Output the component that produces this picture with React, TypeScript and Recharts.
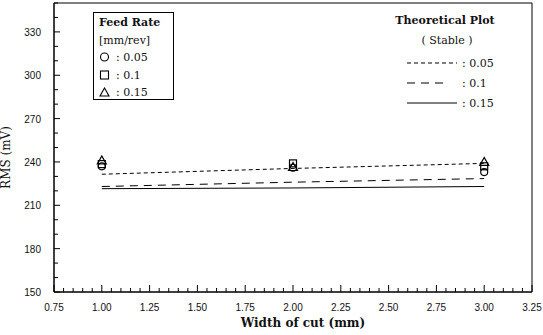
import { ComposedChart, Line, Scatter, XAxis, YAxis, ReferenceArea } from "recharts"

// width of cut (mm) where measured / theoretical values sit
const widths = [1.0, 2.0, 3.0]

// theoretical plot (stable), RMS in mV
const theory005 = [231.5, 235.5, 239]
const theory010 = [223, 226, 228.5]
const theory015 = [221.5, 222, 223]

// measured RMS (mV)
const meas005 = [237, 236, 233]
const meas010 = [238.5, 239, 237]
const meas015 = [241, 236.5, 240]

const xTicks = [
  0.75, 0.8, 0.85, 0.9, 0.95, 1.0, 1.05, 1.1, 1.15, 1.2, 1.25, 1.3, 1.35, 1.4, 1.45, 1.5, 1.55,
  1.6, 1.65, 1.7, 1.75, 1.8, 1.85, 1.9, 1.95, 2.0, 2.05, 2.1, 2.15, 2.2, 2.25, 2.3, 2.35, 2.4,
  2.45, 2.5, 2.55, 2.6, 2.65, 2.7, 2.75, 2.8, 2.85, 2.9, 2.95, 3.0, 3.05, 3.1, 3.15, 3.2, 3.25,
]
const xMajor = [0.75, 1.0, 1.25, 1.5, 1.75, 2.0, 2.25, 2.5, 2.75, 3.0, 3.25]
const yTicks = [
  150, 160, 170, 180, 190, 200, 210, 220, 230, 240, 250, 260, 270, 280, 290, 300, 310, 320, 330,
  340, 350,
]
const yMajor = [150, 180, 210, 240, 270, 300, 330]

const rows = widths.map((w, i) => ({
  x: w,
  t05: theory005[i],
  t10: theory010[i],
  t15: theory015[i],
  m05: meas005[i],
  m10: meas010[i],
  m15: meas015[i],
}))

const isIn = (list: number[], v: number) => list.some((m) => Math.abs(m - v) < 1e-6)

const tickFont = { fontFamily: "'Liberation Sans', Arial, sans-serif", fontSize: 10, fill: "#111" }
const serif = "'DejaVu Serif', 'Liberation Serif', serif"

function XTick(props: any) {
  const { x, y, payload } = props
  const major = isIn(xMajor, payload.value)
  return (
    <g>
      <line x1={x} x2={x} y1={y} y2={y - (major ? 7 : 4)} stroke="#000" />
      {major && (
        <text x={x} y={y + 19} textAnchor="middle" {...tickFont}>
          {payload.value.toFixed(2)}
        </text>
      )}
    </g>
  )
}

function YTick(props: any) {
  const { x, y, payload } = props
  const major = isIn(yMajor, payload.value)
  return (
    <g>
      <line x1={x} x2={x + (major ? 6 : 4)} y1={y} y2={y} stroke="#000" />
      {major && payload.value < 350 && (
        <text x={x - 13} y={y + 4} textAnchor="end" {...tickFont}>
          {payload.value}
        </text>
      )}
    </g>
  )
}

const circle = (p: any) => <circle cx={p.cx} cy={p.cy} r={3.5} fill="none" stroke="#000" strokeWidth={1.2} />
const square = (p: any) => (
  <rect x={p.cx - 3.5} y={p.cy - 3.5} width={7} height={7} fill="none" stroke="#000" strokeWidth={1.2} />
)
const triangle = (p: any) => (
  <polygon
    points={`${p.cx},${p.cy - 4.5} ${p.cx - 4.5},${p.cy + 3.5} ${p.cx + 4.5},${p.cy + 3.5}`}
    fill="none"
    stroke="#000"
    strokeWidth={1.2}
  />
)

const symStyle = { verticalAlign: "-1px", marginRight: 6 }

export default function App() {
  return (
    <div style={{ position: "absolute", left: 0, top: 0, width: 543, height: 335, background: "#fff" }}>
      <ComposedChart width={543} height={335} data={rows} margin={{ top: 3, right: 11, bottom: 0, left: 0 }}>
        <XAxis
          dataKey="x"
          type="number"
          domain={[0.75, 3.25]}
          ticks={xTicks}
          interval={0}
          height={43}
          tickSize={0}
          tickMargin={0}
          tick={<XTick />}
          axisLine={{ stroke: "#000" }}
          label={{
            value: "Width of cut (mm)",
            position: "insideBottom",
            offset: 8,
            dx: 10,
            style: { fontFamily: serif, fontSize: 12, fill: "#111", fontWeight: 600 },
          }}
        />
        <YAxis
          type="number"
          domain={[150, 350]}
          ticks={yTicks}
          interval={0}
          width={54}
          tickSize={0}
          tickMargin={0}
          tick={<YTick />}
          axisLine={{ stroke: "#000" }}
          label={{
            value: "RMS  (mV)",
            angle: -90,
            position: "insideLeft",
            offset: 6,
            dy: 10,
            style: { fontFamily: serif, fontSize: 12, fill: "#111", textAnchor: "middle" },
          }}
        />
        <ReferenceArea x1={0.75} x2={3.25} y1={150} y2={350} fill="none" stroke="#000" strokeWidth={1} />
        <Line dataKey="t05" type="linear" stroke="#000" strokeWidth={1} strokeDasharray="4 3" dot={false} isAnimationActive={false} />
        <Line dataKey="t10" type="linear" stroke="#000" strokeWidth={1} strokeDasharray="8 6" dot={false} isAnimationActive={false} />
        <Line dataKey="t15" type="linear" stroke="#000" strokeWidth={1} dot={false} isAnimationActive={false} />
        <Scatter dataKey="m05" shape={circle} isAnimationActive={false} />
        <Scatter dataKey="m10" shape={square} isAnimationActive={false} />
        <Scatter dataKey="m15" shape={triangle} isAnimationActive={false} />
      </ComposedChart>

      <div
        style={{
          position: "absolute",
          left: 93,
          top: 12,
          width: 81,
          height: 88,
          border: "1px solid #000",
          boxSizing: "border-box",
          fontFamily: serif,
          fontSize: 11,
          color: "#111",
          lineHeight: "17.5px",
          paddingLeft: 5,
          paddingTop: 1,
        }}
      >
        <div style={{ fontWeight: 700 }}>Feed Rate</div>
        <div>[mm/rev]</div>
        <div>
          <svg width={11} height={10} style={symStyle}>
            <circle cx={5.5} cy={5} r={4} fill="none" stroke="#000" strokeWidth={1.1} />
          </svg>
          : 0.05
        </div>
        <div>
          <svg width={11} height={10} style={symStyle}>
            <rect x={1.5} y={1} width={8} height={8} fill="none" stroke="#000" strokeWidth={1.1} />
          </svg>
          : 0.1
        </div>
        <div>
          <svg width={11} height={10} style={symStyle}>
            <polygon points="5.5,1 1,9 10,9" fill="none" stroke="#000" strokeWidth={1.1} />
          </svg>
          : 0.15
        </div>
      </div>

      <div style={{ position: "absolute", left: 390, top: 12, width: 110, fontFamily: serif, fontSize: 11, color: "#111" }}>
        <div style={{ textAlign: "center", fontWeight: 700, lineHeight: "18px" }}>Theoretical Plot</div>
        <div style={{ textAlign: "center", lineHeight: "22px", paddingLeft: 4, marginBottom: 1 }}>( Stable )</div>
        {[
          { dash: "4 3", w: 50, label: ": 0.05" },
          { dash: "8 6", w: 40, label: ": 0.1" },
          { dash: "", w: 50, label: ": 0.15" },
        ].map((r) => (
          <div key={r.label} style={{ height: 20, display: "flex", alignItems: "center" }}>
            <svg width={55} height={10} style={{ marginLeft: 17 }}>
              <line x1={0} x2={r.w} y1={5} y2={5} stroke="#000" strokeWidth={1} strokeDasharray={r.dash || undefined} />
            </svg>
            <span style={{ marginLeft: 0 }}>{r.label}</span>
          </div>
        ))}
      </div>
    </div>
  )
}
